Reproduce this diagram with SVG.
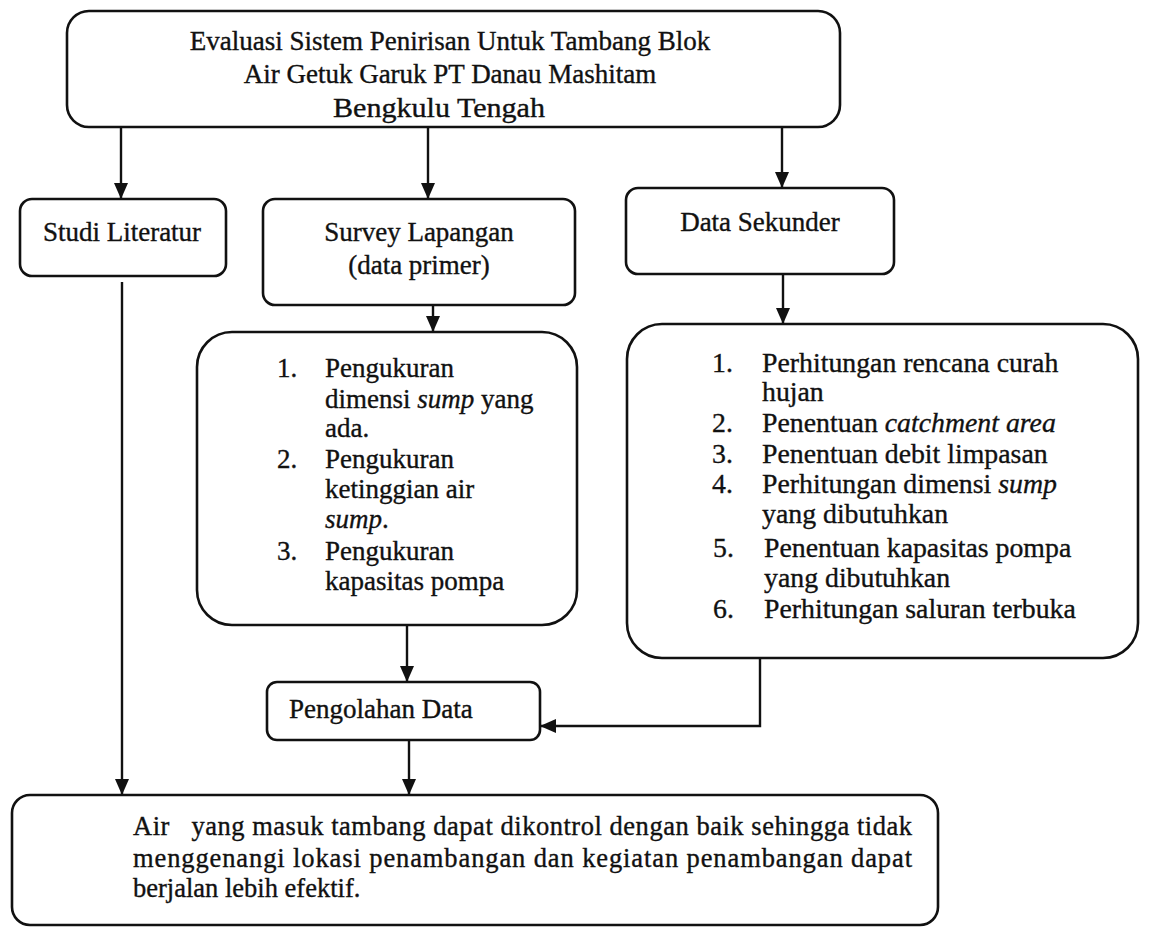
<svg xmlns="http://www.w3.org/2000/svg" width="1154" height="930" viewBox="0 0 1154 930">
<defs>
<style>
.box{fill:#fff;stroke:#111;stroke-width:2.6}
.t{font-family:"Liberation Serif","Times New Roman",serif;font-size:27px;fill:#111;stroke:#111;stroke-width:0.35}
.r{font-size:27.8px}
.tb{font-family:"Liberation Serif","Times New Roman",serif;font-size:26.5px;fill:#111;stroke:#111;stroke-width:0.35}
.c{text-anchor:middle}
.ln{fill:none;stroke:#111;stroke-width:2.4}
</style>
<marker id="ah" viewBox="0 0 16 14" refX="16" refY="7" markerWidth="16" markerHeight="14" markerUnits="userSpaceOnUse" orient="auto">
<path d="M0,0 L16,7 L0,14 z" fill="#111"/>
</marker>
</defs>
<rect width="1154" height="930" fill="#fff"/>

<g id="connectors">
<line class="ln" x1="121" y1="127" x2="121" y2="199" marker-end="url(#ah)"/>
<line class="ln" x1="428" y1="127" x2="428" y2="199" marker-end="url(#ah)"/>
<line class="ln" x1="782" y1="127" x2="782" y2="188" marker-end="url(#ah)"/>
<line class="ln" x1="122" y1="282" x2="122" y2="795" marker-end="url(#ah)"/>
<line class="ln" x1="433" y1="305" x2="433" y2="332" marker-end="url(#ah)"/>
<line class="ln" x1="783" y1="274" x2="783" y2="324" marker-end="url(#ah)"/>
<line class="ln" x1="407" y1="625" x2="407" y2="682" marker-end="url(#ah)"/>
<polyline class="ln" points="760,658 760,726 540,726" marker-end="url(#ah)"/>
<line class="ln" x1="409" y1="740" x2="409" y2="795" marker-end="url(#ah)"/>
</g>

<g id="node-judul">
<rect class="box" x="67" y="11" width="773" height="116" rx="22"/>
<text class="t c" x="450" y="50">Evaluasi Sistem Penirisan Untuk Tambang Blok</text>
<text class="t c" x="450" y="83">Air Getuk Garuk PT Danau Mashitam</text>
<text class="t" x="333" y="117" textLength="212" lengthAdjust="spacingAndGlyphs">Bengkulu Tengah</text>
</g>

<g id="node-studi">
<rect class="box" x="20" y="199" width="206" height="77" rx="12"/>
<text class="t c" x="122" y="241">Studi Literatur</text>
</g>

<g id="node-survey">
<rect class="box" x="263" y="199" width="312" height="106" rx="12"/>
<text class="t c" x="419" y="241">Survey Lapangan</text>
<text class="t c" x="419" y="274">(data primer)</text>
</g>

<g id="node-sekunder">
<rect class="box" x="626" y="188" width="268" height="86" rx="12"/>
<text class="t c" x="760" y="231">Data Sekunder</text>
</g>

<g id="node-primer-list">
<rect class="box" x="197" y="332" width="380" height="293" rx="35"/>
<text class="t" x="277" y="377">1.</text><text class="t" x="325" y="377">Pengukuran</text>
<text class="t" x="325" y="408">dimensi <tspan font-style="italic">sump</tspan> yang</text>
<text class="t" x="325" y="437">ada.</text>
<text class="t" x="277" y="468">2.</text><text class="t" x="325" y="468">Pengukuran</text>
<text class="t" x="325" y="498">ketinggian air</text>
<text class="t" x="325" y="528"><tspan font-style="italic">sump</tspan>.</text>
<text class="t" x="277" y="560">3.</text><text class="t" x="325" y="560">Pengukuran</text>
<text class="t" x="325" y="590">kapasitas pompa</text>
</g>

<g id="node-sekunder-list">
<rect class="box" x="627" y="324" width="511" height="334" rx="35"/>
<text class="t r" x="712" y="372">1.</text><text class="t r" x="762" y="372">Perhitungan rencana curah</text>
<text class="t r" x="762" y="401">hujan</text>
<text class="t r" x="712" y="432">2.</text><text class="t r" x="762" y="432">Penentuan <tspan font-style="italic">catchment area</tspan></text>
<text class="t r" x="712" y="463">3.</text><text class="t r" x="762" y="463">Penentuan debit limpasan</text>
<text class="t r" x="712" y="493">4.</text><text class="t r" x="762" y="493">Perhitungan dimensi <tspan font-style="italic">sump</tspan></text>
<text class="t r" x="762" y="523">yang dibutuhkan</text>
<text class="t r" x="713" y="557">5.</text><text class="t r" x="764" y="557">Penentuan kapasitas pompa</text>
<text class="t r" x="764" y="587">yang dibutuhkan</text>
<text class="t r" x="713" y="618">6.</text><text class="t r" x="764" y="618">Perhitungan saluran terbuka</text>
</g>

<g id="node-pengolahan">
<rect class="box" x="267" y="682" width="273" height="58" rx="10"/>
<text class="t" x="289" y="718">Pengolahan Data</text>
</g>

<g id="node-hasil">
<rect class="box" x="12" y="795" width="926" height="130" rx="18"/>
<text class="tb" x="133" y="835" textLength="779" lengthAdjust="spacing">Air&#160;&#160; yang masuk tambang dapat dikontrol dengan baik sehingga tidak</text>
<text class="tb" x="133" y="867" textLength="779" lengthAdjust="spacing">menggenangi lokasi penambangan dan kegiatan penambangan dapat</text>
<text class="tb" x="133" y="897">berjalan lebih efektif.</text>
</g>
</svg>
